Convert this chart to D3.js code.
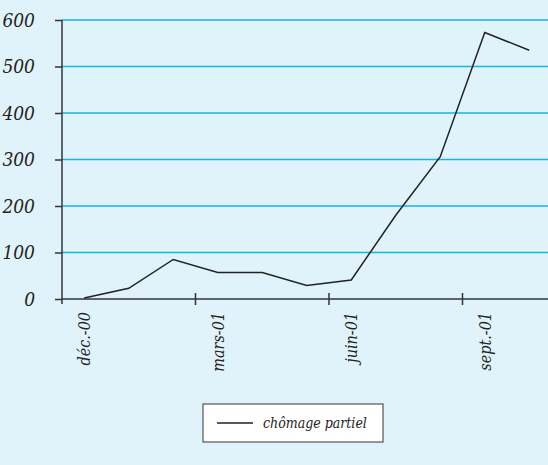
<!DOCTYPE html>
<html><head><meta charset="utf-8">
<script src="https://cdn.jsdelivr.net/npm/d3@7"></script>
<style>body{margin:0;background:#e1f3fa;}svg{display:block;}
svg text{font-family:"DejaVu Serif Condensed","DejaVu Serif",serif;font-stretch:condensed;font-style:italic;}</style>
</head><body>
<script>
const categories = ["déc.-00","janv.-01","févr.-01","mars-01","avr.-01","mai-01","juin-01","juil.-01","août-01","sept.-01","oct.-01"];
const values = [2, 23, 85, 57, 57, 29, 41, 180, 306, 573, 535];
const yTicks = [0, 100, 200, 300, 400, 500, 600];
const labeledCategories = ["déc.-00","mars-01","juin-01","sept.-01"];
const seriesName = "chômage partiel";

(function(){
const W = 548, H = 465;
const svg = d3.select("body").append("svg").attr("width", W).attr("height", H);
svg.append("rect").attr("width", W).attr("height", H).attr("fill", "#e1f3fa");

const mLeft = 62, mTop = 20, mBottom = 299;
const step = 44.5;
const x = d3.scaleBand().domain(categories).range([mLeft, mLeft + step * categories.length]).padding(0);
const y = d3.scaleLinear().domain([0, 600]).range([mBottom, mTop]);

// gridlines
svg.append("g").selectAll("line").data(yTicks.filter(d => d > 0)).join("line")
  .attr("x1", mLeft).attr("x2", W).attr("y1", d => y(d)).attr("y2", d => y(d))
  .attr("stroke", "#12b5ec").attr("stroke-width", 1.5);

// y axis
const yAxis = svg.append("g").attr("transform", `translate(${mLeft},0)`)
  .call(d3.axisLeft(y).tickValues(yTicks).tickSize(7).tickPadding(20));
yAxis.attr("font-family", null).attr("font-size", null);
yAxis.select(".domain").attr("stroke", "#333").attr("stroke-width", 1.5).attr("d", `M0,${mTop}V${mBottom + 5}`);
yAxis.selectAll(".tick line").attr("stroke", "#333").attr("stroke-width", 1.5);
yAxis.selectAll(".tick text").style("font-size", "19px").attr("fill", "#222");

// x axis
const xg = svg.append("g");
xg.append("line").attr("x1", mLeft).attr("x2", W).attr("y1", mBottom).attr("y2", mBottom)
  .attr("stroke", "#333").attr("stroke-width", 1.5);
const tickCats = categories.filter((c, i) => i > 0 && i % 3 === 0);
xg.selectAll("line.tk").data(tickCats).join("line").attr("class", "tk")
  .attr("x1", d => x(d)).attr("x2", d => x(d)).attr("y1", mBottom - 6).attr("y2", mBottom + 6)
  .attr("stroke", "#333").attr("stroke-width", 1.5);
xg.selectAll("text").data(labeledCategories).join("text")
  .attr("transform", d => `translate(${x(d) + x.bandwidth() / 2 + 6},${mBottom + 13}) rotate(-90)`)
  .attr("text-anchor", "end")
  .style("font-size", "16px").attr("fill", "#222")
  .text(d => d);

// line
const line = d3.line().x((d, i) => x(categories[i]) + x.bandwidth() / 2).y(d => y(d));
svg.append("path").datum(values).attr("d", line).attr("fill", "none")
  .attr("stroke", "#222").attr("stroke-width", 1.5);

// legend
const lg = svg.append("g");
lg.append("rect").attr("x", 203).attr("y", 404).attr("width", 180).attr("height", 38)
  .attr("fill", "#fff").attr("stroke", "#333").attr("stroke-width", 1);
lg.append("line").attr("x1", 217).attr("x2", 253).attr("y1", 423).attr("y2", 423)
  .attr("stroke", "#222").attr("stroke-width", 1.5);
lg.append("text").attr("x", 263).attr("y", 428)
  .style("font-size", "14px").attr("fill", "#222").text(seriesName);
})();
</script>
</body></html>
